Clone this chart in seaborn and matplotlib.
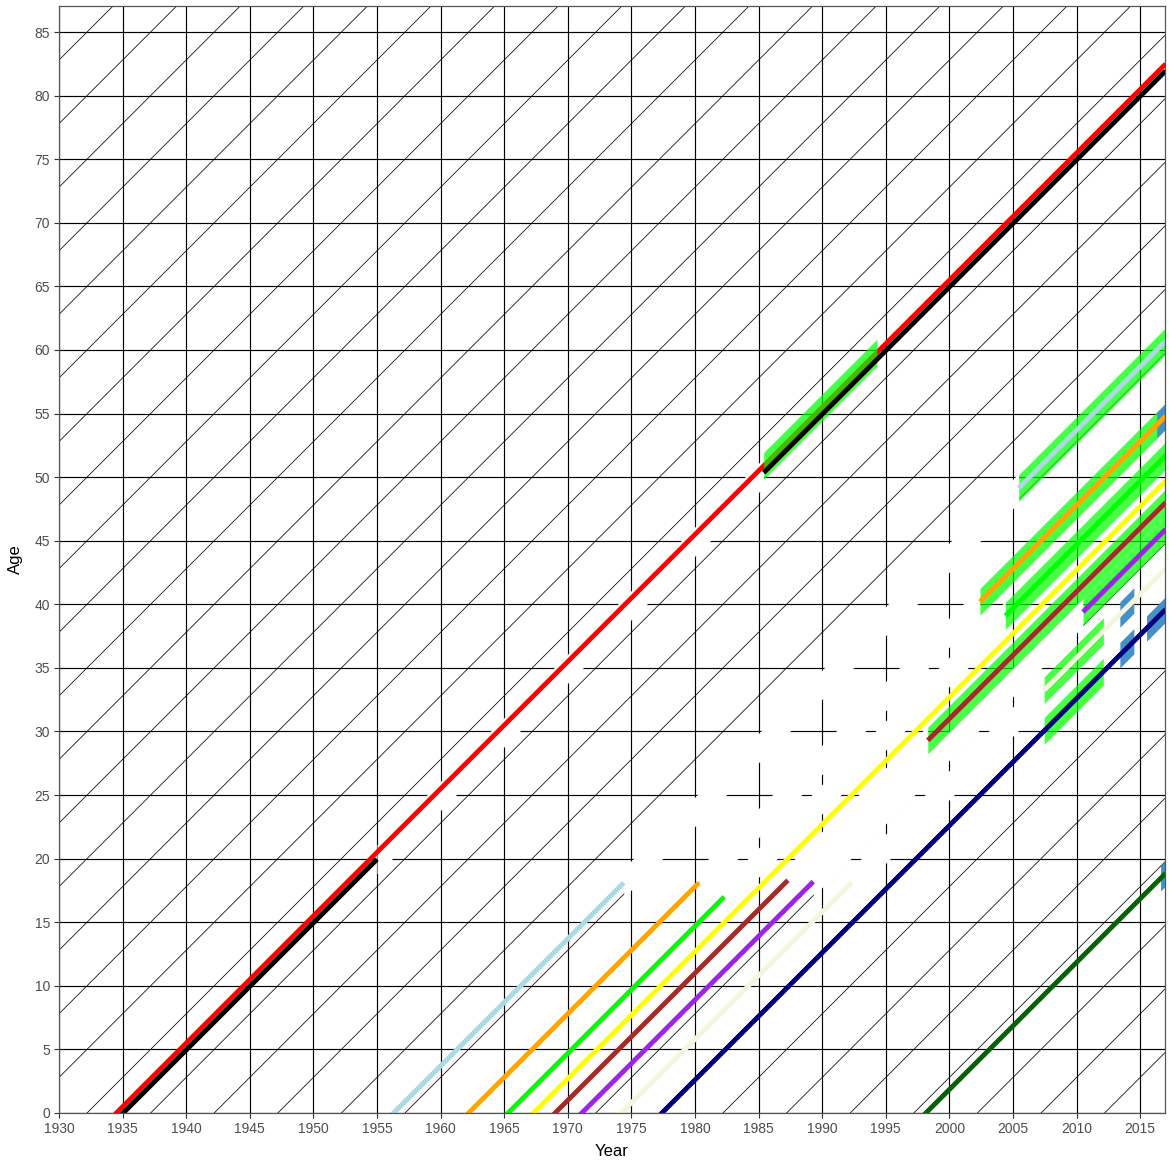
import numpy as np
import pandas as pd
import matplotlib
matplotlib.use("Agg")
import matplotlib.pyplot as plt
import seaborn as sns

# ---- people: id, year of birth, line colour ----
person = ["p01", "p02", "p03", "p04", "p05", "p06", "p07", "p08", "p09", "p10", "p11"]
birth = [1934.5, 1935.05, 1956.3, 1962.2, 1965.3, 1967.3, 1969.0, 1971.1, 1974.2, 1977.4, 1998.15]
colour = ["red", "black", "lightblue", "orange", "lime", "yellow", "brown",
          "#A020F0", "beige", "navy", "darkgreen"]

# ---- observed stretches of each life line (calendar years) ----
obs_person = ["p01", "p02", "p02", "p03", "p03", "p04", "p04", "p05", "p05", "p06",
              "p07", "p07", "p08", "p08", "p09", "p09", "p10", "p11"]
obs_start = [1934.5, 1935.05, 1985.4, 1956.3, 2005.45, 1962.2, 2002.4, 1965.3, 2004.4, 1967.3,
             1969.0, 1998.3, 1971.1, 2010.5, 1974.2, 2007.45, 1977.4, 1998.15]
obs_end = [2017.0, 1955.0, 2017.0, 1974.4, 2017.0, 1980.3, 2017.0, 1982.3, 2017.0, 2017.0,
           1987.3, 2017.0, 1989.3, 2017.0, 1992.3, 2017.0, 2017.0, 2017.0]

# ---- unobserved stretches (blanked out) ----
gap_person = ["p02", "p03", "p04", "p05", "p07", "p08", "p09"]
gap_start = [1955.0, 1974.4, 1980.3, 1982.3, 1987.3, 1989.3, 1992.3]
gap_end = [1985.4, 2005.45, 2002.4, 2004.4, 1998.3, 2010.5, 2007.45]

# ---- episodes highlighted in green ----
ep_person = ["p01", "p03", "p04", "p05", "p07", "p08", "p09", "p10"]
ep_start = [1985.4, 2005.45, 2002.4, 2004.4, 1998.3, 2010.5, 2007.45, 2007.45]
ep_end = [1994.3, 2017.0, 2017.0, 2017.0, 2017.0, 2017.0, 2012.1, 2012.1]

# ---- short events marked in blue ----
ev_person = ["p04", "p09", "p10", "p10", "p11"]
ev_start = [2016.3, 2013.4, 2013.4, 2015.5, 2016.6]
ev_end = [2017.0, 2014.5, 2014.5, 2017.0, 2017.0]

year_ticks = list(range(1930, 2016, 5))
age_ticks = list(range(0, 86, 5))

born = dict(zip(person, birth))
palette = dict(zip(person, colour))

sns.set_theme(style="white")
plt.rcParams["font.family"] = ["Liberation Sans", "DejaVu Sans"]

fig = plt.figure(figsize=(11.69, 11.64), dpi=100)
ax = fig.add_axes([59 / 1169, 51 / 1164, 1106 / 1169, 1107 / 1164])
ax.set_facecolor("white")

# Lexis grid: periods, ages and cohort diagonals
for yr in year_ticks:
    ax.axvline(yr, color="black", lw=0.85, zorder=1)
for a in age_ticks:
    ax.axhline(a, color="black", lw=0.85, zorder=1)
for c in np.arange(1847.2, 2020, 5):
    ax.axline((c, 0), slope=1, color="black", lw=0.55, zorder=1)


def band(p, s, e, half, **kw):
    b = born[p]
    xs = np.array([s, e])
    ax.fill_between(xs, xs - b - half, xs - b + half, lw=0, **kw)


# blanked, unobserved periods
for p, s, e in zip(gap_person, gap_start, gap_end):
    band(p, s, e, 1.15, color="white", zorder=2)

# life lines as a long table
rows = []
for i, (p, s, e) in enumerate(zip(obs_person, obs_start, obs_end)):
    b = born[p]
    s0 = s - 0.5 if abs(s - b) < 1e-9 else s
    rows.append((p, i, s0, s0 - b))
    rows.append((p, i, e, e - b))
lines = pd.DataFrame(rows, columns=["person", "seg", "year", "age"])

under = lines[lines.person == "p01"]
over = lines[lines.person != "p01"]

sns.lineplot(data=under, x="year", y="age", hue="person", units="seg", estimator=None,
             palette=palette, linewidth=3.4, legend=False, sort=False, ax=ax,
             solid_capstyle="butt", zorder=3)

for p, s, e in zip(ep_person, ep_start, ep_end):
    band(p, s, e, 1.05, color="#00FF00", alpha=0.72, zorder=4)

for p, s, e in zip(ev_person, ev_start, ev_end):
    band(p, s, e, 1.0, color="#4590C8", zorder=5)

sns.lineplot(data=over, x="year", y="age", hue="person", units="seg", estimator=None,
             palette=palette, linewidth=3.5, legend=False, sort=False, ax=ax,
             solid_capstyle="butt", zorder=6)

ax.set_xlim(1930, 2016.95)
ax.set_ylim(0, 87.05)
ax.set_xticks(year_ticks)
ax.set_yticks(age_ticks)
ax.tick_params(axis="both", which="both", direction="out", length=3.5, width=0.8,
               color="#333333", labelcolor="#4D4D4D", labelsize=10, pad=3,
               bottom=True, left=True)
ax.set_xlabel("Year", fontsize=12, color="black", labelpad=6)
ax.set_ylabel("Age", fontsize=12, color="black", labelpad=8)
for sp in ax.spines.values():
    sp.set_color("#555555")
    sp.set_linewidth(0.9)
    sp.set_zorder(10)
ax.grid(False)

fig.savefig("out.png", dpi=100)
